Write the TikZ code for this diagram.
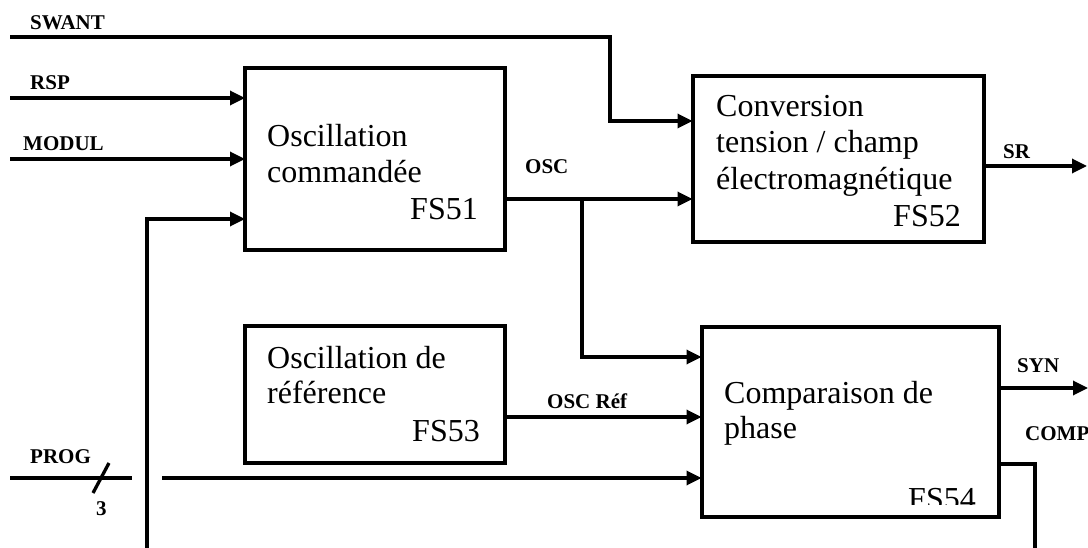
\documentclass[tikz,border=0pt]{standalone}
\usepackage{fontspec}
\setmainfont{Liberation Serif}
\usetikzlibrary{arrows.meta}
\begin{document}
\begin{tikzpicture}[x=1pt,y=-1pt,
  fbox/.style={draw, line width=4pt, outer sep=0pt, inner sep=0pt},
  wire/.style={line width=3.3pt},
  arr/.style={wire, -{Triangle[length=15pt,width=14pt]}},
  lbl/.style={font=\fontsize{21}{24}\selectfont\bfseries, anchor=base west, inner sep=0pt},
  txt/.style={font=\fontsize{32}{36}\selectfont, anchor=base west, inner sep=0pt},
  txtr/.style={font=\fontsize{32}{36}\selectfont, anchor=base east, inner sep=0pt}]
\useasboundingbox (0,0) rectangle (1088,548);
% boxes
\node[fbox, minimum width=260pt, minimum height=182pt] (fs51) at (375,159) {};
\node[fbox, minimum width=291pt, minimum height=166pt] (fs52) at (838,159) {};
\node[fbox, minimum width=260pt, minimum height=137pt] (fs53) at (375,394.5) {};
\node[fbox, minimum width=297pt, minimum height=190pt] (fs54) at (850,422) {};
% box texts
\node[txt] (t51a) at (267,147) {Oscillation};
\node[txt] (t51b) at (267,183) {commandée};
\node[txtr] (t51c) at (478,220) {FS51};
\node[txt] (t52a) at (716,117) {Conversion};
\node[txt] (t52b) at (716,153) {tension / champ};
\node[txt] (t52c) at (716,190) {électromagnétique};
\node[txtr] (t52d) at (961,227) {FS52};
\node[txt] (t53a) at (267,368) {Oscillation de};
\node[txt] (t53b) at (267,403) {référence};
\node[txtr] (t53c) at (480,441) {FS53};
\node[txt] (t54a) at (724,403) {Comparaison de};
\node[txt] (t54b) at (724,438) {phase};
\begin{scope}
\clip (900,470) rectangle (995,504);
\node[txtr] (t54c) at (976,509) {FS54};
\end{scope}
% free ends
\coordinate (swant0) at (10,37);
\coordinate (rsp0) at (10,98);
\coordinate (modul0) at (10,159);
\coordinate (fb0) at (147,548);
\coordinate (prog0) at (10,478);
\coordinate (prog1) at (132,478);
\coordinate (prog2) at (162,478);
\coordinate (sr1) at (1087,166);
\coordinate (syn1) at (1088,388);
\coordinate (comp1) at (1035,548);
\coordinate (br) at (582,199);
% connectors
\draw[arr] (swant0) -- (610,37) |- ([yshift=38pt]fs52.west);
\draw[arr] (rsp0) -- (rsp0 -| fs51.west);
\draw[arr] (modul0) -- (fs51.west);
\draw[arr] (fb0) |- ([yshift=-60pt]fs51.west);
\draw[arr] ([yshift=-40pt]fs51.east) -- ([yshift=-40pt]fs52.west);
\draw[arr] (br) |- ([yshift=65pt]fs54.west);
\draw[arr] ([yshift=-22.5pt]fs53.east) -- ([yshift=5pt]fs54.west);
\draw[wire] (prog0) -- (prog1);
\draw[arr] (prog2) -- ([yshift=-56pt]fs54.west);
\draw[wire] (93,493) -- (109,463);
\draw[arr] ([yshift=-7pt]fs52.east) -- (sr1);
\draw[arr] ([yshift=34pt]fs54.east) -- (syn1);
\draw[wire] ([yshift=-42pt]fs54.east) -| (comp1);
% labels
\node[lbl] (lswant) at (30,30) {SWANT};
\node[lbl] (lrsp) at (30,90) {RSP};
\node[lbl] (lmodul) at (23,151) {MODUL};
\node[lbl] (losc) at (525,174) {OSC};
\node[lbl] (lsr) at (1003,159) {SR};
\node[lbl] (loscref) at (547,408) {OSC Réf};
\node[lbl] (lsyn) at (1017,372) {SYN};
\node[lbl] (lcomp) at (1025,440) {COMP};
\node[lbl] (lprog) at (30,463) {PROG};
\node[lbl] (l3) at (96,515) {3};
\end{tikzpicture}
\end{document}
